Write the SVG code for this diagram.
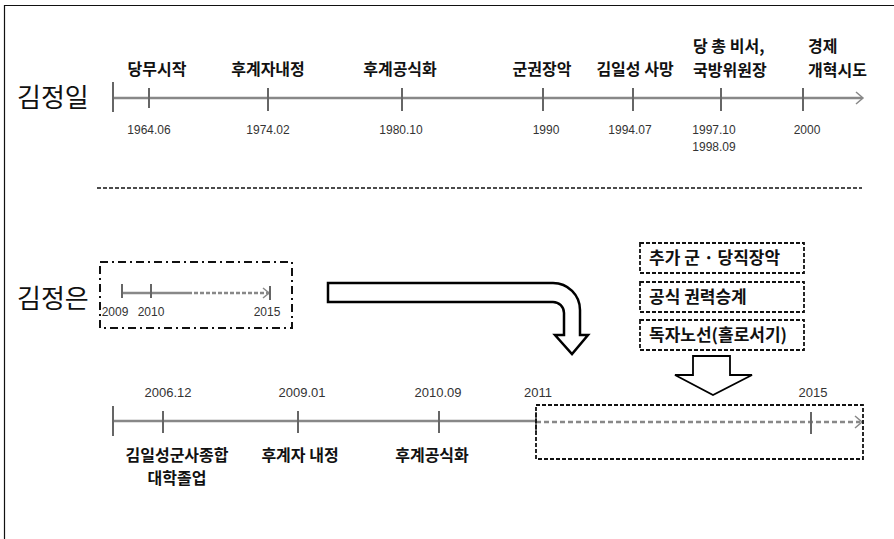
<svg xmlns="http://www.w3.org/2000/svg" width="894" height="539" viewBox="0 0 894 539">
<style>
.lbl{font-family:"Noto Sans CJK KR","Noto Sans",sans-serif;font-size:16px;font-weight:bold;fill:#111;}
.big{font-family:"Noto Sans CJK KR","Noto Sans",sans-serif;font-size:26px;fill:#111;}
.dt{font-family:"Liberation Sans","Noto Sans",sans-serif;font-size:12px;fill:#333;}
.dt2{font-family:"Liberation Sans","Noto Sans",sans-serif;font-size:13px;fill:#333;}
.axis{stroke:#888;stroke-width:2.5;fill:none;}
.tick{stroke:#666;stroke-width:2;}
.head{stroke:#888;stroke-width:1.5;fill:none;}
.dbox{fill:none;stroke:#111;stroke-width:1.8;stroke-dasharray:4 2;}
.mid{text-anchor:middle;}
</style>
<rect width="894" height="539" fill="#fff"/>
<path d="M4.5,539 V5.5 H894" fill="none" stroke="#111" stroke-width="1.2"/>

<g id="kji-timeline">
  <text class="big" x="17" y="107">김정일</text>
  <line class="axis" x1="113" y1="98" x2="862" y2="98"/>
  <polyline class="head" points="856,92 863,98 856,104"/>
  <line class="tick" x1="113" y1="82" x2="113" y2="112"/>
  <line class="tick" x1="149" y1="88" x2="149" y2="108"/>
  <line class="tick" x1="268" y1="88" x2="268" y2="111"/>
  <line class="tick" x1="402" y1="88" x2="402" y2="111"/>
  <line class="tick" x1="543" y1="88" x2="543" y2="111"/>
  <line class="tick" x1="633" y1="88" x2="633" y2="111"/>
  <line class="tick" x1="721" y1="88" x2="721" y2="111"/>
  <line class="tick" x1="803" y1="88" x2="803" y2="111"/>
</g>
<g id="kji-labels">
  <text class="lbl mid" x="157" y="75">당무시작</text>
  <text class="lbl mid" x="268" y="75">후계자내정</text>
  <text class="lbl mid" x="400" y="75">후계공식화</text>
  <text class="lbl mid" x="542" y="75">군권장악</text>
  <text class="lbl mid" x="635" y="75">김일성 사망</text>
  <text class="lbl" x="693" y="52">당 총 비서,</text>
  <text class="lbl" x="693" y="76">국방위원장</text>
  <text class="lbl" x="808" y="52">경제</text>
  <text class="lbl" x="808" y="76">개혁시도</text>
</g>
<g id="kji-dates">
  <text class="dt mid" x="149" y="134">1964.06</text>
  <text class="dt mid" x="268" y="134">1974.02</text>
  <text class="dt mid" x="401" y="134">1980.10</text>
  <text class="dt mid" x="546" y="134">1990</text>
  <text class="dt mid" x="630" y="134">1994.07</text>
  <text class="dt mid" x="714" y="134">1997.10</text>
  <text class="dt mid" x="714" y="151">1998.09</text>
  <text class="dt mid" x="807" y="134">2000</text>
</g>

<line id="separator" x1="97" y1="188" x2="862" y2="188" stroke="#111" stroke-width="1.5" stroke-dasharray="4 2"/>

<g id="kju-summary">
  <text class="big" x="17" y="308">김정은</text>
  <rect x="100" y="262" width="192" height="66" fill="none" stroke="#111" stroke-width="2" stroke-dasharray="8 4 2 4"/>
  <line class="axis" x1="122" y1="293" x2="188" y2="293" stroke-width="2"/>
  <line class="axis" x1="188" y1="293" x2="269" y2="293" stroke-width="2" stroke-dasharray="4 2"/>
  <polyline class="head" points="263,288 269,293 263,298"/>
  <line class="tick" x1="270" y1="286" x2="270" y2="300"/>
  <line class="tick" x1="122" y1="284" x2="122" y2="298"/>
  <line class="tick" x1="151" y1="284" x2="151" y2="298"/>
  <text class="dt mid" x="115" y="316">2009</text>
  <text class="dt mid" x="151" y="316">2010</text>
  <text class="dt mid" x="267" y="316">2015</text>
</g>

<g id="bent-arrow">
  <path d="M328,283 L553,283 A27,27 0 0 1 580,310 L580,335 L588,335 L572,354 L555,335 L564,335 L564,313 A11,11 0 0 0 553,302 L328,302 Z" fill="#fff" stroke="#000" stroke-width="2.5" stroke-linejoin="miter"/>
</g>

<g id="box-1">
  <rect class="dbox" x="640" y="243" width="164" height="30"/>
  <text class="lbl" x="649" y="264" style="font-size:17px">추가 군 · 당직장악</text>
</g>
<g id="box-2">
  <rect class="dbox" x="640" y="282" width="164" height="30"/>
  <text class="lbl" x="649" y="303" style="font-size:17px">공식 권력승계</text>
</g>
<g id="box-3">
  <rect class="dbox" x="640" y="320" width="164" height="30"/>
  <text class="lbl" x="649" y="341" style="font-size:17px">독자노선(홀로서기)</text>
</g>
<g id="down-arrow">
  <path d="M693,356 L730,356 L730,375 L752,375 L713,395 L675,375 L693,375 Z" fill="#fff" stroke="#000" stroke-width="1.8"/>
</g>

<g id="kju-timeline">
  <line class="axis" x1="113" y1="421" x2="536" y2="421"/>
  <line class="axis" x1="536" y1="422" x2="860" y2="422" stroke-dasharray="5 3"/>
  <polyline class="head" points="855,416 862,422 855,428"/>
  <line class="tick" x1="113" y1="406" x2="113" y2="436"/>
  <line class="tick" x1="163" y1="411" x2="163" y2="433"/>
  <line class="tick" x1="298" y1="411" x2="298" y2="433"/>
  <line class="tick" x1="439" y1="411" x2="439" y2="433"/>
  <line class="tick" x1="536" y1="412" x2="536" y2="432"/>
  <line class="tick" x1="811" y1="412" x2="811" y2="434"/>
  <rect class="dbox" x="536" y="405" width="327" height="54"/>
</g>
<g id="kju-dates">
  <text class="dt2 mid" x="168" y="397">2006.12</text>
  <text class="dt2 mid" x="302" y="397">2009.01</text>
  <text class="dt2 mid" x="438" y="397">2010.09</text>
  <text class="dt2 mid" x="538" y="397">2011</text>
  <text class="dt2 mid" x="813" y="397">2015</text>
</g>
<g id="kju-labels">
  <text class="lbl mid" x="177" y="461">김일성군사종합</text>
  <text class="lbl mid" x="177" y="484">대학졸업</text>
  <text class="lbl mid" x="300" y="461">후계자 내정</text>
  <text class="lbl mid" x="432" y="461">후계공식화</text>
</g>
</svg>
